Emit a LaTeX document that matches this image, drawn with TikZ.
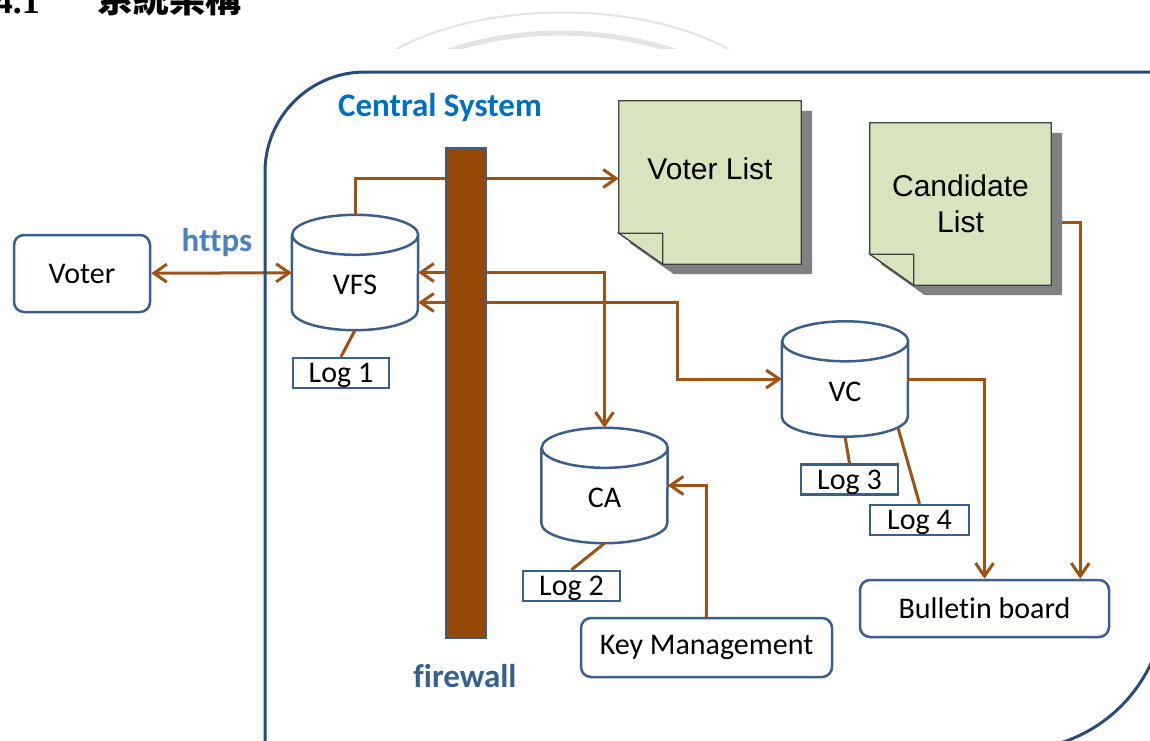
\documentclass[tikz,border=0pt]{standalone}
\usepackage{fontspec}
\setmainfont{Carlito}[Ligatures=NoCommon]
\newfontfamily\arialfont{Liberation Sans}
\newfontfamily\cjkfont{Noto Sans CJK TC}
\newfontfamily\headfont{Liberation Serif}
\usetikzlibrary{arrows.meta}
\definecolor{boxblue}{RGB}{58,95,140}
\definecolor{frameblue}{RGB}{40,75,125}
\definecolor{linkbrown}{RGB}{160,82,20}
\definecolor{wallbrown}{RGB}{151,72,6}
\definecolor{titleblue}{RGB}{0,112,192}
\definecolor{httpsblue}{RGB}{79,129,189}
\definecolor{wallblue}{RGB}{55,96,146}
\definecolor{notegreen}{RGB}{215,228,189}
\definecolor{shadegray}{RGB}{128,128,128}
\pgfdeclarelayer{background}
\pgfsetlayers{background,main}

\newcommand\lbl{\fontsize{30}{36}\selectfont}
\newcommand\bigtxt{\bfseries\fontsize{33}{38}\selectfont}

% database drum drawn round a named node
\newcommand\dbdrum[1]{%
  \draw[draw=boxblue, line width=2.5pt, fill=white]
    ([yshift=-20pt]#1.north west) -- ([yshift=20pt]#1.south west)
    arc[start angle=180, end angle=360, x radius=63pt, y radius=20pt]
    -- ([yshift=-20pt]#1.north east)
    arc[start angle=0, end angle=180, x radius=63pt, y radius=20pt]
    arc[start angle=180, end angle=360, x radius=63pt, y radius=20pt];}

% sticky note with folded corner
\newcommand\sticky[1]{%
  \fill[shadegray] ([shift={(11,10)}]#1.north west) -- ([shift={(11,10)}]#1.north east)
    -- ([shift={(11,10)}]#1.south east) -- ([shift={(55,10)}]#1.south west)
    -- ([shift={(11,-21)}]#1.south west) -- cycle;
  \draw[black!75, line width=1.2pt, fill=notegreen] (#1.north west) -- (#1.north east)
    -- (#1.south east) -- ([xshift=44pt]#1.south west) -- ([yshift=31pt]#1.south west) -- cycle;
  \draw[black!75, line width=1.2pt, fill=notegreen] ([yshift=31pt]#1.south west)
    -- ([shift={(44,-31)}]#1.south west) -- ([xshift=44pt]#1.south west) -- cycle;}

\begin{document}
\begin{tikzpicture}[x=1pt,y=-1pt,
  actor/.style={draw=boxblue, line width=2.5pt, fill=white, rounded corners=10pt, inner sep=0pt, font=\lbl},
  logbox/.style={draw=boxblue, line width=2.5pt, fill=white, inner sep=0pt, minimum height=30, text height=24pt, text depth=5pt, font=\lbl},
  dbnode/.style={minimum width=126, minimum height=115, text height=50pt, text depth=6pt, inner sep=0pt, font=\lbl},
  paper/.style={minimum width=182, minimum height=163, inner sep=0pt, align=center, font=\arialfont\lbl},
  flow/.style={draw=linkbrown, line width=3pt},
  >={Straight Barb[length=13pt,width=18pt]}]
  \useasboundingbox (0,0) rectangle (1150,740);

  % heading and faint arcs
  \node[anchor=base east, inner sep=0pt, font=\headfont\bfseries\fontsize{36}{40}\selectfont] (secnum) at (40,13) {4.1};
  \node[anchor=base west, inner sep=0pt, font=\cjkfont\bfseries\fontsize{36}{40}\selectfont] (sectitle) at (97,12) {系統架構};
  \begin{scope}
    \clip (0,0) rectangle (1150,48);
    \draw[gray!22, line width=2pt] (385,56) .. controls (475,-2) and (650,-2) .. (740,56);
    \draw[gray!22, line width=5pt] (440,54) .. controls (515,26) and (605,26) .. (684,54);
  \end{scope}

  \node[actor, minimum width=136, minimum height=77] (voter) at (82,273.5) {Voter};
  \node[font=\bigtxt, text=httpsblue] (https) at (217,243) {https};
  \node[font=\bigtxt, text=titleblue] (central) at (440,108) {Central System};

  \node[dbnode] (vfs) at (355,272.5) {VFS};
  \node[dbnode] (ca) at (604.5,485.5) {CA};
  \node[dbnode] (vc) at (845,379) {VC};

  \node[logbox, minimum width=96] (log1) at (341,373) {Log 1};
  \node[logbox, minimum width=97] (log2) at (571.5,586) {Log 2};
  \node[logbox, minimum width=97] (log3) at (849.5,479.5) {Log 3};
  \node[logbox, minimum width=99] (log4) at (919.5,520) {Log 4};

  \node[actor, minimum width=251, minimum height=59] (km) at (706.5,647.5) {Key Management};
  \node[actor, minimum width=249, minimum height=57] (bb) at (984.5,608.5) {Bulletin board};

  \node[paper, text height=22pt, text depth=28pt] (vlist) at (710,182.5) {Voter List};
  \node[paper, minimum width=181, minimum height=162] (clist) at (960.5,204) {Candidate\\List};

  \begin{pgfonlayer}{background}
    \dbdrum{vfs}
    \dbdrum{ca}
    \dbdrum{vc}
    \sticky{vlist}
    \sticky{clist}
  \end{pgfonlayer}

  \coordinate (turn) at (677,379);
  \draw[flow,<->] (voter) -- (vfs);
  \draw[flow,->] (vfs.north) |- ([yshift=4pt]vlist.west);
  \draw[flow,<->] (vfs.east) -| (ca.north);
  \draw[flow,<->] ([yshift=-30pt]vfs.east) -| (turn) -- (vc.west);
  \draw[flow,->] (km.north) |- (ca.east);
  \draw[flow,->] (vc.east) -| (bb.north);
  \draw[flow,->] ([shift={(11,18)}]clist.east) -| ([xshift=-30pt]bb.north east);
  \draw[flow] (vfs.south) -- (log1.north);
  \draw[flow] (ca.south) -- (log2.north);
  \draw[flow] (vc.south) -- (log3.north);
  \draw[flow] ([shift={(53,-9)}]vc.south) -- (log4.north);

  % firewall sits over the links
  \node[draw=boxblue, line width=2pt, fill=wallbrown, minimum width=40, minimum height=490, inner sep=0pt] (wall) at (466,393) {};
  \node[font=\bigtxt, text=wallblue] (walltext) at (465,676) {firewall};

  % central system frame
  \draw[frameblue, line width=3pt] (265,750) -- (265,172)
    arc[start angle=180, end angle=90, radius=100pt] -- (1165,72) -- (1165,600)
    arc[start angle=0, end angle=-90, radius=150pt] -- cycle;
\end{tikzpicture}
\end{document}
